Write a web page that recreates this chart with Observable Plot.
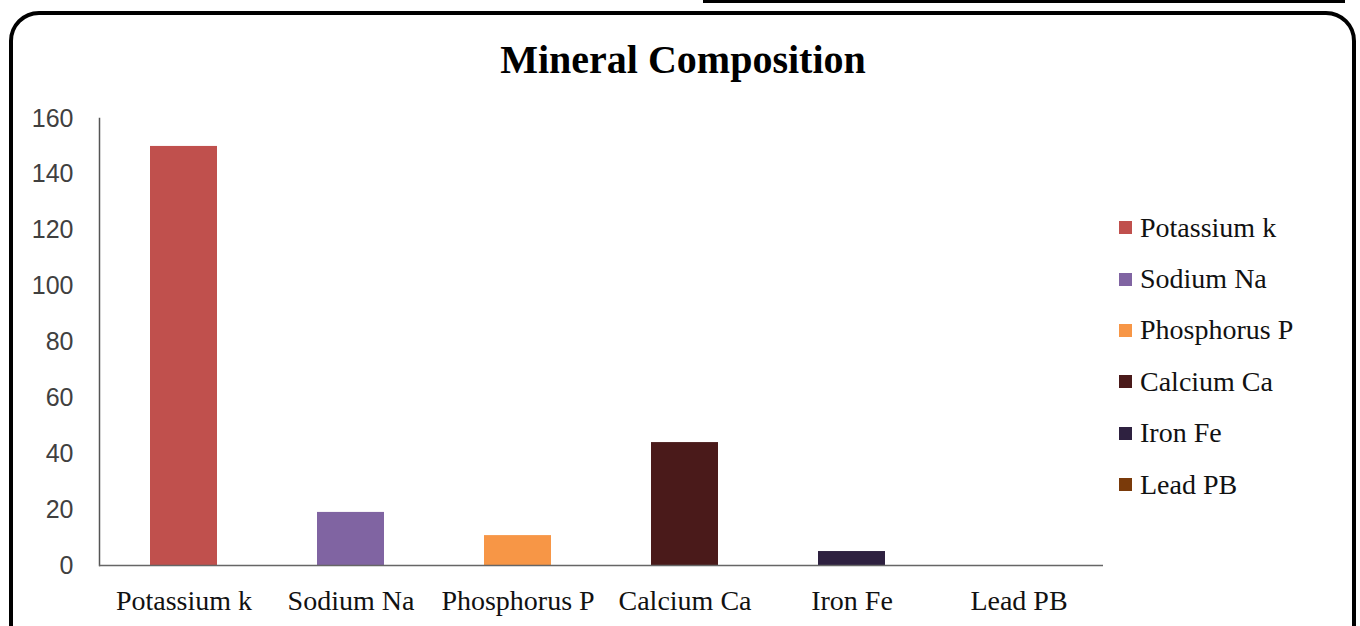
<!DOCTYPE html>
<html>
<head>
<meta charset="utf-8">
<script src="https://cdn.jsdelivr.net/npm/d3@7"></script>
<script src="https://cdn.jsdelivr.net/npm/@observablehq/plot@0.6"></script>
<style>
  html, body { margin: 0; padding: 0; background: #fff; }
  #wrap { position: relative; width: 1360px; height: 626px; overflow: hidden; background: #fff; }
  #border { position: absolute; left: 9px; top: 11px; width: 1339px; height: 640px; border: 4px solid #000; border-radius: 30px; box-sizing: content-box; }
  #topline { position: absolute; left: 703px; top: 0px; width: 642px; height: 3px; background: #000; }
  #title { position: absolute; left: 0; width: 1366px; top: 36px; text-align: center; font-family: "Liberation Serif", serif; font-weight: bold; font-size: 40px; line-height: 48px; color: #000; }
  #chart { position: absolute; left: 0; top: 0; }
  #legend { position: absolute; left: 1119px; top: 202px; font-family: "Liberation Serif", serif; font-size: 28px; color: #111; }
  .item { display: flex; align-items: center; height: 51.4px; }
  .sw { width: 13px; height: 13px; margin-right: 8px; }
</style>
</head>
<body>
<div id="wrap">
  <div id="topline"></div>
  <div id="border"></div>
  <div id="title">Mineral Composition</div>
  <div id="chart"></div>
  <div id="legend"></div>
</div>
<script>
const minerals = ["Potassium k", "Sodium Na", "Phosphorus P", "Calcium Ca", "Iron Fe", "Lead PB"];
const values = [150, 19, 10.7, 44, 5, 0];
const colors = ["#C0504D", "#8064A2", "#F79646", "#4A1A1A", "#2E2140", "#7A3A0A"];
const yTicks = [0, 20, 40, 60, 80, 100, 120, 140, 160];

const data = minerals.map((m, i) => ({mineral: m, value: values[i]}));

const chart = Plot.plot({
  width: 1360,
  height: 626,
  marginLeft: 99,
  marginRight: 257,
  marginTop: 118,
  marginBottom: 61,
  style: {background: "transparent", overflow: "visible"},
  x: {domain: minerals, paddingInner: 0.6, paddingOuter: 0.3, label: null},
  y: {domain: [0, 160], label: null},
  color: {domain: minerals, range: colors},
  marks: [
    Plot.barY(data, {x: "mineral", y: "value", fill: "mineral"}),
    Plot.axisY(yTicks, {tickSize: 0, tickPadding: 26, fontSize: 25, fontFamily: "Liberation Sans Narrow, Liberation Sans, Arial, sans-serif", fill: "#404040", label: null}),
    Plot.axisX({tickSize: 0, tickPadding: 25, fontSize: 28, fontFamily: "Liberation Serif, serif", fill: "#111", label: null}),
    Plot.frame({anchor: "left", stroke: "#555", strokeWidth: 1.5}),
    Plot.ruleY([0], {stroke: "#666", strokeWidth: 1.5})
  ]
});
document.getElementById("chart").appendChild(chart);

const legend = document.getElementById("legend");
minerals.forEach((m, i) => {
  const item = document.createElement("div");
  item.className = "item";
  const sw = document.createElement("div");
  sw.className = "sw";
  sw.style.background = colors[i];
  const t = document.createElement("span");
  t.textContent = m;
  item.appendChild(sw);
  item.appendChild(t);
  legend.appendChild(item);
});
</script>
</body>
</html>
